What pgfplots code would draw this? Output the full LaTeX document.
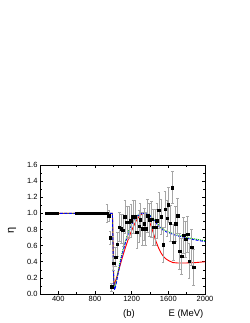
\documentclass[border=0pt]{standalone}
\usepackage{pgfplots}
\pgfplotsset{compat=1.18}
\usepackage{fontspec}
\setmainfont{Liberation Sans}
\begin{document}
\begin{tikzpicture}[x=1pt,y=1pt]
\path[use as bounding box] (0,0) rectangle (249,323);
\begin{axis}[
  at={(40pt,29pt)}, anchor=south west,
  scale only axis, width=165pt, height=129pt,
  xmin=200, xmax=2000, ymin=0, ymax=1.6,
  xtick={400,800,1200,1600,2000},
  minor xtick={200,600,1000,1400,1800},
  ytick={0,0.2,0.4,0.6,0.8,1.0,1.2,1.4,1.6},
  minor ytick={0.1,0.3,0.5,0.7,0.9,1.1,1.3,1.5},
  yticklabel style={/pgf/number format/fixed, /pgf/number format/fixed zerofill, /pgf/number format/precision=1, xshift=1pt},
  xticklabel style={/pgf/number format/1000 sep={}, yshift=1pt},
  /pgf/number format/assume math mode=true,
  scaled x ticks=false,
  tick align=inside,
  major tick length=3pt, minor tick length=1.8pt,
  tick style={black, line width=0.5pt},
  ticklabel style={font=\fontsize{7.5}{8}\selectfont},
  axis line style={line width=0.6pt},
  clip=true,
]
\addplot[red, line width=0.9pt] coordinates {
(270,1)(990,1)(995,0.8)(1000,0.4)(1005,0.15)(1010,0.12)(1020,0.15)(1040,0.22)(1060,0.3)(1080,0.38)(1100,0.46)(1130,0.57)(1160,0.67)(1190,0.76)(1220,0.84)(1250,0.91)(1280,0.96)(1310,0.99)(1330,1.0)(1350,0.99)(1370,0.96)(1400,0.88)(1430,0.78)(1460,0.67)(1490,0.58)(1520,0.51)(1550,0.46)(1580,0.43)(1610,0.41)(1650,0.39)(1700,0.385)(1800,0.385)(1900,0.39)(2000,0.40)};
\addplot[green!75!black, densely dotted, line width=1pt] coordinates {
(270,1)(990,1)(995,0.7)(1000,0.3)(1008,0.1)(1015,0.07)(1030,0.15)(1050,0.27)(1075,0.41)(1100,0.53)(1130,0.65)(1160,0.76)(1190,0.85)(1220,0.91)(1250,0.96)(1280,0.99)(1310,1.0)(1340,1.0)(1370,1.0)(1400,0.98)(1430,0.94)(1460,0.9)(1490,0.86)(1520,0.82)(1560,0.79)(1600,0.77)(1650,0.75)(1700,0.73)(1750,0.72)(1800,0.70)(1850,0.69)(1900,0.68)(2000,0.66)};
\addplot[blue, dash pattern=on 3pt off 1.5pt, line width=0.9pt] coordinates {
(270,1)(990,1)(995,0.7)(1000,0.3)(1008,0.08)(1015,0.05)(1030,0.12)(1050,0.24)(1075,0.38)(1100,0.5)(1130,0.63)(1160,0.74)(1190,0.83)(1220,0.9)(1250,0.95)(1280,0.98)(1310,1.0)(1340,1.0)(1370,0.99)(1400,0.97)(1430,0.93)(1460,0.89)(1490,0.85)(1520,0.81)(1560,0.78)(1600,0.76)(1650,0.74)(1700,0.72)(1750,0.71)(1800,0.69)(1850,0.68)(1900,0.67)(2000,0.65)};
\addplot[only marks, mark=square*, mark size=1.2pt, black,
  error bars/.cd, y dir=both, y explicit,
  error bar style={gray!70, line width=0.5pt},
  error mark options={gray!70, rotate=90, mark size=1.3pt}]
table[x=x, y=y, y error=e] {
x y e
270 1.0 0.01
285 1.0 0.01
300 1.0 0.01
315 1.0 0.01
330 1.0 0.01
345 1.0 0.01
360 1.0 0.01
375 1.0 0.01
390 1.0 0.01
600 1.0 0.01
620 1.0 0.01
640 1.0 0.01
660 1.0 0.01
680 1.0 0.01
700 1.0 0.01
720 1.0 0.01
740 1.0 0.01
760 1.0 0.01
780 1.0 0.01
800 1.0 0.01
820 1.0 0.01
840 1.0 0.01
860 1.0 0.01
880 1.0 0.01
900 1.0 0.01
930 1.0 0.11
950 0.97 0.07
965 0.70 0.08
980 0.09 0.05
1002 0.38 0.08
1024 0.46 0.12
1045 0.62 0.15
1067 0.83 0.18
1089 0.81 0.18
1104 0.79 0.2
1126 0.96 0.2
1147 0.89 0.2
1169 0.89 0.2
1191 0.91 0.2
1213 0.96 0.2
1235 0.96 0.2
1257 0.77 0.2
1279 0.84 0.2
1293 0.92 0.2
1315 0.81 0.2
1337 0.87 0.2
1352 0.81 0.2
1373 0.97 0.2
1395 0.92 0.2
1417 0.93 0.22
1439 0.83 0.22
1461 0.83 0.22
1475 0.91 0.22
1497 1.04 0.22
1519 0.96 0.22
1541 0.61 0.22
1563 1.05 0.22
1585 0.94 0.22
1599 1.11 0.22
1621 0.88 0.22
1643 1.32 0.2
1658 0.64 0.22
1680 0.87 0.22
1701 0.97 0.22
1723 0.53 0.22
1745 0.47 0.22
1767 0.73 0.22
1789 0.68 0.22
1811 0.74 0.22
1825 0.41 0.22
1854 0.58 0.22
1876 0.33 0.22
};
\end{axis}
\node[rotate=90, font=\fontsize{11}{12}\selectfont] at (12,93) {η};
\node[font=\fontsize{9.5}{10}\selectfont] at (129,9) {(b)};
\node[font=\fontsize{9.5}{10}\selectfont] at (186,9) {E (MeV)};
\end{tikzpicture}
\end{document}
